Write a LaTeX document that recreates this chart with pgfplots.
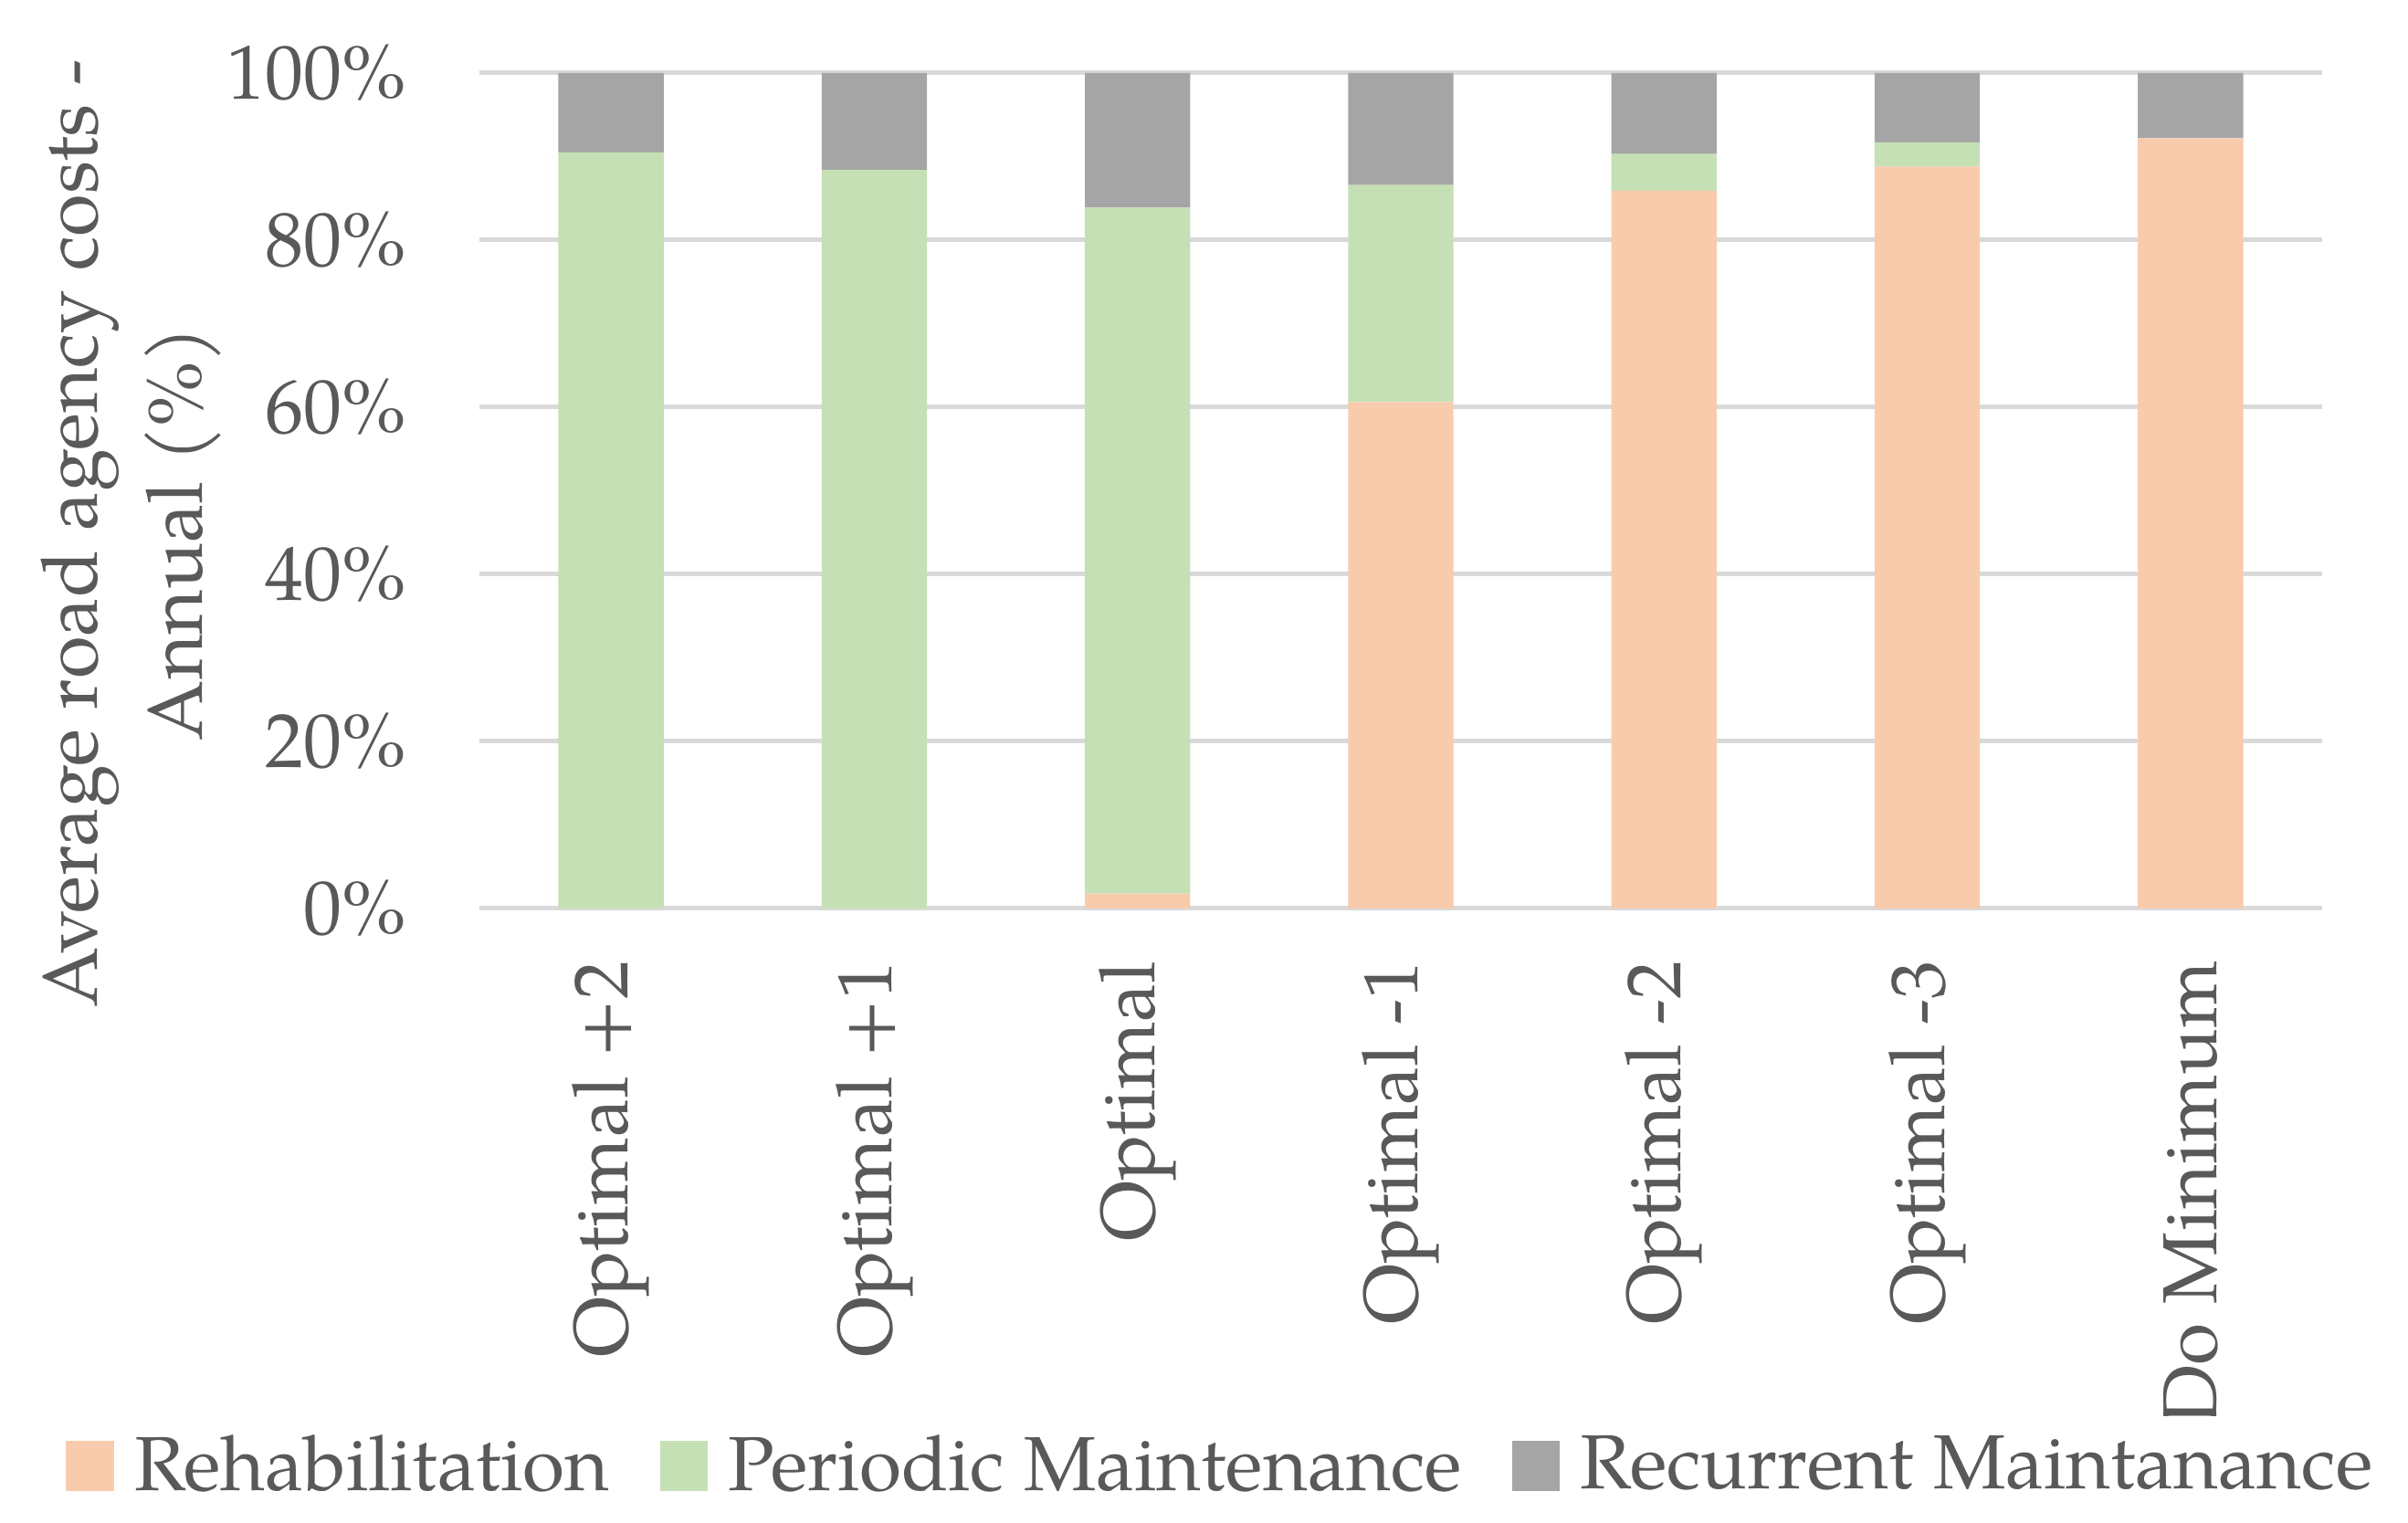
\documentclass[border=0pt]{standalone}
\usepackage{fontspec}
\setmainfont{TeX Gyre Pagella}
\usepackage{pgfplots}
\pgfplotsset{compat=1.18}

\definecolor{rehab}{HTML}{F8CBAD}
\definecolor{periodic}{HTML}{C5E0B4}
\definecolor{recurrent}{HTML}{A5A5A5}
\definecolor{gridc}{HTML}{D9D9D9}
\definecolor{textc}{HTML}{595959}

\begin{document}
\begin{tikzpicture}
\begin{axis}[
    ybar stacked,
    scale only axis,
    width=403.6pt, height=183pt,
    xmin=-0.5, xmax=6.5,
    ymin=0, ymax=100,
    bar width=0.4,
    xtick=data,
    xticklabels={Optimal +2, Optimal +1, Optimal, Optimal -1, Optimal -2, Optimal -3, Do Minimum},
    x tick label style={rotate=90, anchor=east, xshift=-8pt},
    ytick={0,20,...,100},
    yticklabel={\pgfmathprintnumber{\tick}\%},
    /pgf/number format/assume math mode=true,
    y tick label style={xshift=-12.5pt},
    every tick label/.append style={font=\fontsize{16.8}{20}\selectfont, text=textc},
    ymajorgrids,
    grid style={draw=gridc, line width=1pt},
    axis line style={draw=none},
    major tick length=0pt,
    ylabel={Average road agency costs -\\Annual (\%)},
    ylabel style={at={(axis description cs:-0.189,0.449)}, anchor=center,
        align=center, font=\fontsize{17}{23}\selectfont, text=textc},
    legend columns=3,
    legend style={at={(axis description cs:0.404,-0.667)}, anchor=center,
        draw=none, font=\fontsize{16.8}{20}\selectfont, text=textc,
        /tikz/every even column/.append style={column sep=9pt}},
    legend image code/.code={\fill[#1] (0pt,-5.5pt) rectangle (10.5pt,5.5pt);
        \path (13pt,0pt);},
]
\addplot[fill=rehab, draw=none] coordinates {(0,0) (1,0) (2,1.8) (3,60.6) (4,85.9) (5,88.8) (6,92.2)};
\addplot[fill=periodic, draw=none] coordinates {(0,90.5) (1,88.4) (2,82.1) (3,26.0) (4,4.4) (5,2.9) (6,0)};
\addplot[fill=recurrent, draw=none] coordinates {(0,9.5) (1,11.6) (2,16.1) (3,13.4) (4,9.7) (5,8.3) (6,7.8)};
\legend{Rehabilitation, Periodic Maintenance, Recurrent Maintanance}
\end{axis}
\pgfresetboundingbox
\path (-105pt,-134.6pt) rectangle (422.4pt,199pt);
\end{tikzpicture}
\end{document}
